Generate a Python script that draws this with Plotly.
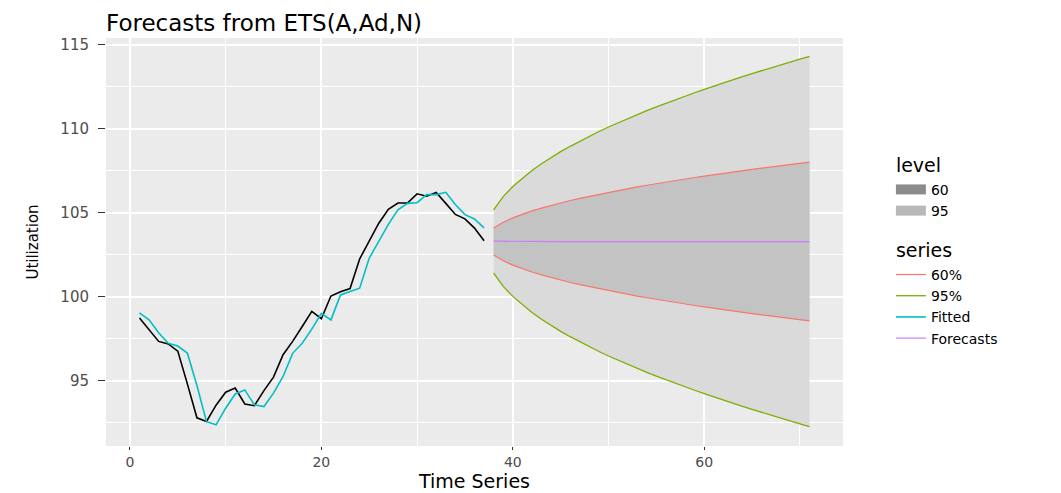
import plotly.graph_objects as go

# ---------------- data ----------------
t_hist = list(range(1, 38))
actual = [98.72, 98.02, 97.33, 97.18, 96.75, 94.80, 92.78, 92.56, 93.53, 94.30,
          94.55, 93.60, 93.50, 94.40, 95.20, 96.54, 97.33, 98.22, 99.12, 98.68,
          100.03, 100.29, 100.48, 102.24, 103.27, 104.37, 105.20, 105.57, 105.57, 106.12,
          105.98, 106.20, 105.55, 104.89, 104.63, 104.08, 103.33]
fitted = [99.03, 98.62, 97.85, 97.22, 97.05, 96.64, 94.70, 92.55, 92.36, 93.35,
          94.20, 94.44, 93.55, 93.45, 94.25, 95.24, 96.62, 97.22, 98.06, 99.00,
          98.61, 100.10, 100.30, 100.50, 102.28, 103.27, 104.30, 105.17, 105.55, 105.59,
          106.07, 106.07, 106.21, 105.48, 104.88, 104.62, 104.09]

t_fc = list(range(38, 72))
forecast = [103.30, 103.29, 103.29, 103.28, 103.28, 103.28, 103.28, 103.27, 103.27, 103.27,
            103.27, 103.27, 103.27, 103.27, 103.27, 103.27, 103.27, 103.27, 103.27, 103.27,
            103.27, 103.27, 103.27, 103.27, 103.27, 103.27, 103.27, 103.27, 103.27, 103.27,
            103.27, 103.27, 103.27, 103.27]
upper95 = [105.17, 105.95, 106.55, 107.06, 107.51, 107.91, 108.28, 108.63, 108.95, 109.26,
           109.55, 109.83, 110.10, 110.35, 110.60, 110.84, 111.07, 111.30, 111.52, 111.73,
           111.94, 112.14, 112.34, 112.54, 112.73, 112.92, 113.10, 113.28, 113.46, 113.63,
           113.80, 113.97, 114.14, 114.30]
lower95 = [101.39, 100.61, 100.01, 99.50, 99.05, 98.65, 98.28, 97.93, 97.61, 97.30,
           97.01, 96.73, 96.46, 96.21, 95.96, 95.72, 95.49, 95.26, 95.04, 94.83,
           94.62, 94.42, 94.22, 94.02, 93.83, 93.64, 93.46, 93.28, 93.10, 92.93,
           92.76, 92.59, 92.42, 92.26]
upper60 = [104.09, 104.43, 104.69, 104.90, 105.10, 105.27, 105.43, 105.58, 105.72, 105.85,
           105.97, 106.09, 106.21, 106.32, 106.42, 106.53, 106.63, 106.73, 106.82, 106.91,
           107.00, 107.09, 107.17, 107.26, 107.34, 107.42, 107.50, 107.58, 107.65, 107.73,
           107.80, 107.87, 107.94, 108.01]
lower60 = [102.47, 102.13, 101.87, 101.66, 101.46, 101.29, 101.13, 100.98, 100.84, 100.71,
           100.59, 100.47, 100.35, 100.24, 100.14, 100.03, 99.93, 99.83, 99.74, 99.65,
           99.56, 99.47, 99.39, 99.30, 99.22, 99.14, 99.06, 98.98, 98.91, 98.83,
           98.76, 98.69, 98.62, 98.55]

x_ticks = [0, 20, 40, 60]
y_ticks = [95, 100, 105, 110, 115]
level_names = ["60", "95"]
series_names = ["60%", "95%", "Fitted", "Forecasts"]

# ---------------- styles ----------------
FONT = "DejaVu Sans"
C60, C95, CFIT, CFC = "#F8766D", "#7CAE00", "#00BFC4", "#C77CFF"
FILL95, FILL60 = "#DADADA", "#C3C3C3"
KEY60, KEY95 = "#8C8C8C", "#B8B8B8"

fig = go.Figure()

# legend-only keys for the "level" group
for name, col in zip(level_names, [KEY60, KEY95]):
    fig.add_trace(go.Scatter(
        x=[None], y=[None], mode="lines",
        line=dict(width=14, color=col), name=name, legendgroup="level",
        legendgrouptitle=dict(text="level", font=dict(family=FONT, size=19, color="black")),
        hoverinfo="skip"))

# ribbons
fig.add_trace(go.Scatter(x=t_fc, y=lower95, mode="lines", line=dict(width=0),
                         showlegend=False, hoverinfo="skip"))
fig.add_trace(go.Scatter(x=t_fc, y=upper95, mode="lines", line=dict(width=0),
                         fill="tonexty", fillcolor=FILL95, showlegend=False, hoverinfo="skip"))
fig.add_trace(go.Scatter(x=t_fc, y=lower60, mode="lines", line=dict(width=0),
                         showlegend=False, hoverinfo="skip"))
fig.add_trace(go.Scatter(x=t_fc, y=upper60, mode="lines", line=dict(width=0),
                         fill="tonexty", fillcolor=FILL60, showlegend=False, hoverinfo="skip"))

# actual series
fig.add_trace(go.Scatter(x=t_hist, y=actual, mode="lines",
                         line=dict(color="black", width=1.6), showlegend=False))

# series group
sgt = dict(text="series", font=dict(family=FONT, size=19, color="black"))
fig.add_trace(go.Scatter(x=t_fc + [None] + t_fc, y=upper60 + [None] + lower60, mode="lines",
                         line=dict(color=C60, width=1.2), name=series_names[0],
                         legendgroup="series", legendgrouptitle=sgt))
fig.add_trace(go.Scatter(x=t_fc + [None] + t_fc, y=upper95 + [None] + lower95, mode="lines",
                         line=dict(color=C95, width=1.3), name=series_names[1],
                         legendgroup="series"))
fig.add_trace(go.Scatter(x=t_hist, y=fitted, mode="lines",
                         line=dict(color=CFIT, width=1.6), name=series_names[2],
                         legendgroup="series"))
fig.add_trace(go.Scatter(x=t_fc, y=forecast, mode="lines",
                         line=dict(color=CFC, width=1.2), name=series_names[3],
                         legendgroup="series"))

axis_common = dict(
    showline=False, zeroline=False, showgrid=True, gridcolor="white", gridwidth=1.5,
    ticks="outside", tickcolor="#333333", tickwidth=1,
)
fig.update_xaxes(**axis_common, range=[-2.5, 74.5], tickvals=x_ticks, ticklen=3,
                 tickfont=dict(family=FONT, size=14, color="#4D4D4D"),
                 minor=dict(dtick=10, tick0=0, showgrid=True, gridcolor="white",
                            gridwidth=0.7, ticks=""),
                 title=dict(text="Time Series", font=dict(family=FONT, size=19, color="black"),
                            standoff=1))
fig.update_yaxes(**axis_common, range=[91.1, 115.4], tickvals=y_ticks, ticklen=7,
                 ticklabelstandoff=6,
                 tickfont=dict(family=FONT, size=15, color="#4D4D4D"),
                 minor=dict(dtick=2.5, tick0=0, showgrid=True, gridcolor="white",
                            gridwidth=0.7, ticks=""),
                 title=dict(text="Utilization", font=dict(family=FONT, size=15, color="black"),
                            standoff=18))

# page body has an 8px margin, so the figure is 8px smaller and margins shifted
fig.update_layout(
    width=1053, height=485,
    margin=dict(l=98, r=218, t=30, b=47, autoexpand=False),
    paper_bgcolor="white", plot_bgcolor="#EBEBEB",
    title=dict(text="Forecasts from ETS(A,Ad,N)", x=0, xref="paper", xanchor="left",
               y=1 - 15 / 485, yref="container", yanchor="middle",
               font=dict(family=FONT, size=23, color="black")),
    legend=dict(x=1.065, xanchor="left", y=0.735, yanchor="top", traceorder="grouped",
                tracegroupgap=15, bgcolor="rgba(0,0,0,0)",
                font=dict(family=FONT, size=14, color="black"), itemwidth=30),
    showlegend=True,
)

fig.write_html("out.html")
